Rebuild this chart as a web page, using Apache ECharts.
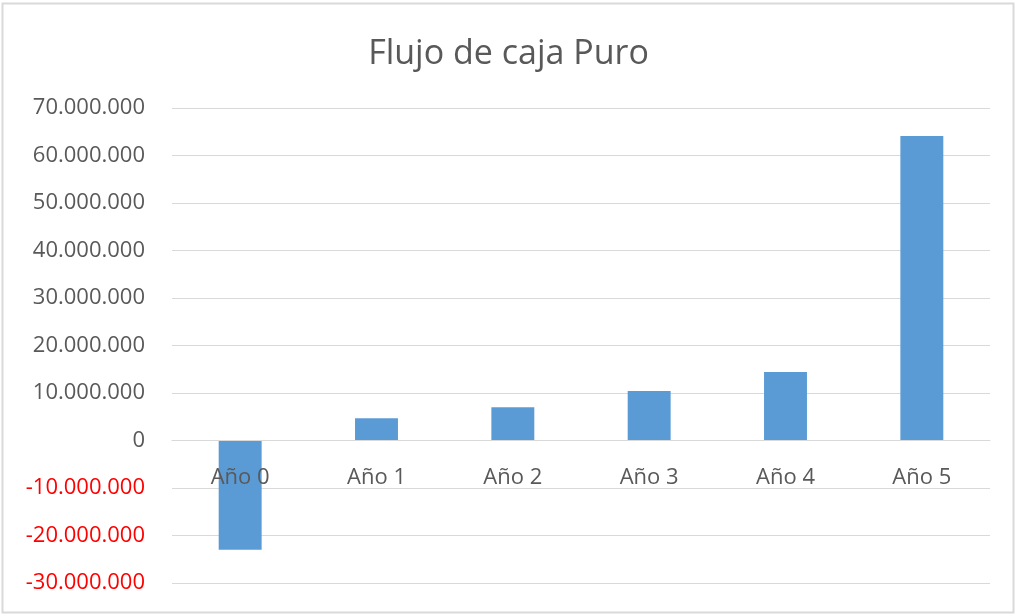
<!DOCTYPE html>
<html>
<head>
<meta charset="utf-8">
<script src="https://cdn.jsdelivr.net/npm/echarts@6/dist/echarts.min.js"></script>
<style>
  html, body { margin: 0; padding: 0; background: #ffffff; }
  #chart { width: 1017px; height: 615px; }
</style>
</head>
<body>
<div id="chart"></div>
<script>
// Datos del gráfico
const categorias = ['Año 0', 'Año 1', 'Año 2', 'Año 3', 'Año 4', 'Año 5'];
const flujo = [-23000000, 4700000, 7000000, 10400000, 14400000, 64100000];
const ejeMin = -30000000;
const ejeMax = 70000000;
const ejePaso = 10000000;

const gris = '#595959';

function formatoMiles(v) {
    const neg = v < 0;
    const s = Math.abs(v).toString().replace(/\B(?=(\d{3})+(?!\d))/g, '.');
    return (neg ? '-' : '') + s;
}

const chart = echarts.init(document.getElementById('chart'));
chart.setOption({
    backgroundColor: '#ffffff',
    animation: false,
    title: {
        text: 'Flujo de caja Puro',
        left: 'center',
        top: 32,
        textStyle: { fontFamily: 'Open Sans', fontSize: 34, fontWeight: 'normal', color: gris }
    },
    graphic: [{
        type: 'rect',
        shape: { x: 2.5, y: 3.5, width: 1011, height: 609 },
        style: { fill: 'none', stroke: '#d9d9d9', lineWidth: 2 },
        silent: true
    }],
    grid: { left: 172, right: 27, top: 108, bottom: 32, outerBoundsMode: 'none' },
    xAxis: {
        type: 'category',
        data: categorias,
        axisLine: { onZero: true, lineStyle: { color: '#d9d9d9' } },
        axisTick: { show: false },
        // etiquetas junto a la línea del cero, como en Excel
        axisLabel: { color: gris, fontFamily: 'Open Sans', fontSize: 22, margin: -116 },
        z: 3
    },
    yAxis: {
        type: 'value',
        min: ejeMin,
        max: ejeMax,
        interval: ejePaso,
        axisLine: { show: false },
        axisTick: { show: false },
        splitLine: { lineStyle: { color: '#d9d9d9', width: 1 } },
        axisLabel: {
            fontFamily: 'Open Sans',
            fontSize: 22,
            margin: 27,
            formatter: v => formatoMiles(v),
            color: v => (Number(v) < 0 ? '#ff0000' : gris)
        }
    },
    series: [{
        type: 'bar',
        data: flujo,
        barWidth: '31.5%',
        itemStyle: { color: '#5b9bd5' },
        z: 2
    }]
});
</script>
</body>
</html>
